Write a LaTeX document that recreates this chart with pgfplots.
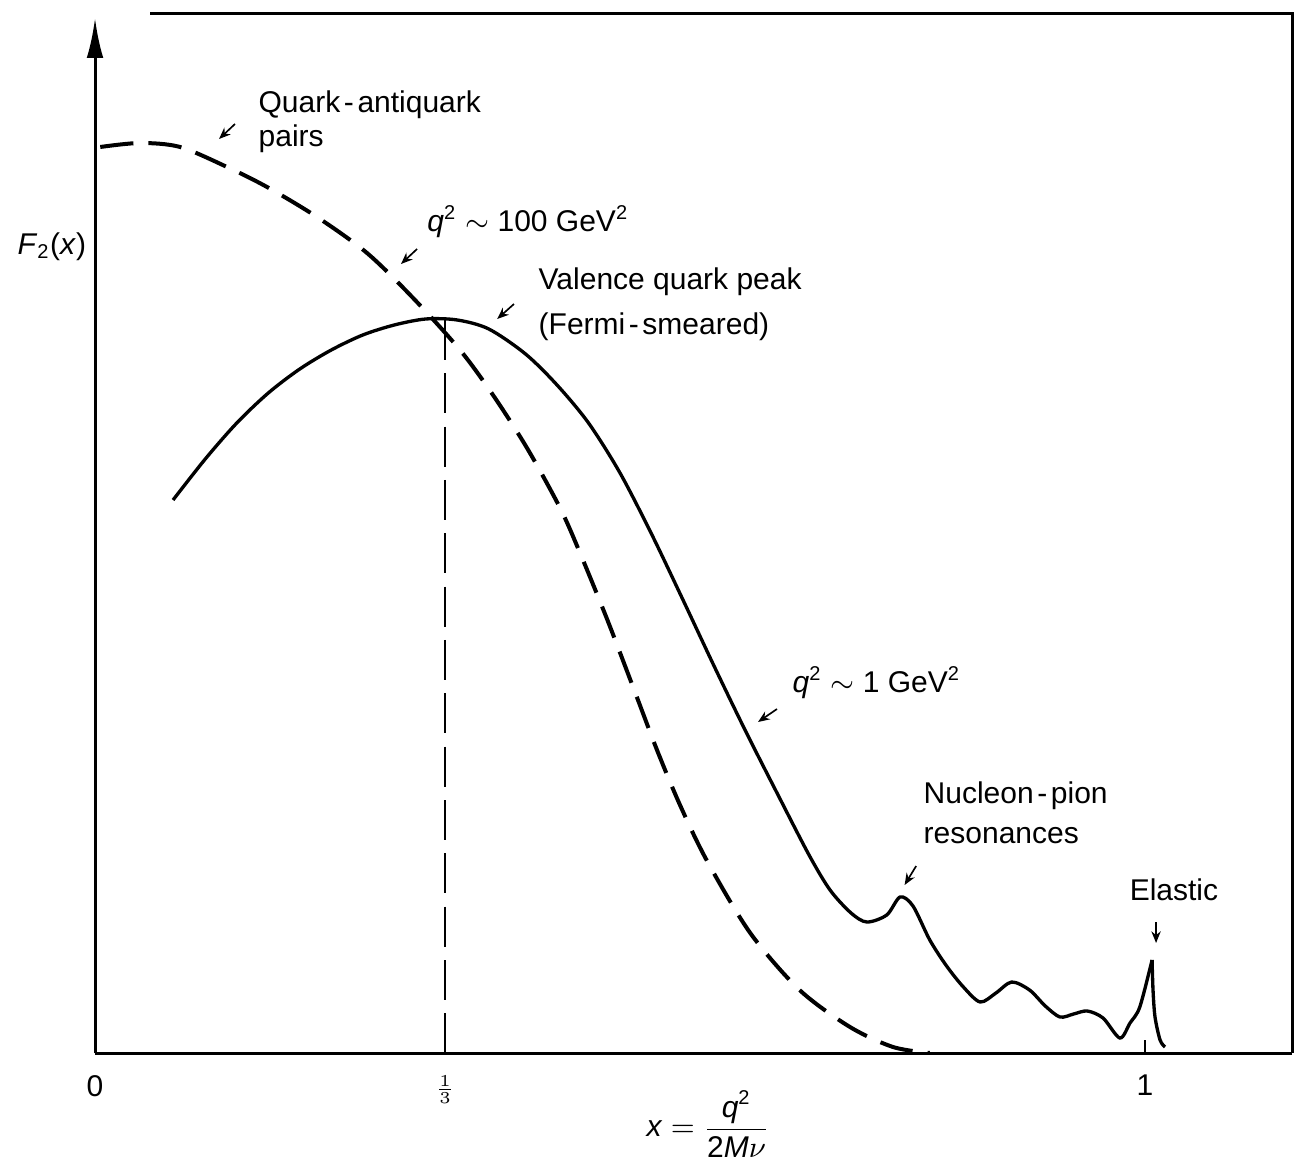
\documentclass[border=0pt]{standalone}
\usepackage{pgfplots}
\pgfplotsset{compat=1.18}
\usepackage{fontspec}
\setmainfont{Liberation Sans}
\usetikzlibrary{arrows.meta}
\begin{document}
\fontsize{9}{11}\selectfont
\begin{tikzpicture}
\begin{axis}[
  scale only axis,
  width=359.1pt, height=310.5pt,
  xmin=0, xmax=1.14, ymin=0, ymax=1.035,
  axis x line*=bottom,
  axis y line*=left,
  x axis line style={line width=0.9pt},
  y axis line style={line width=0.9pt, -{Latex[length=12pt,width=5pt]}},
  xtick={0,0.33333,1},
  xticklabels={0,{\fontsize{7.5}{7.5}\selectfont$\frac{1}{3}$},1},
  xticklabel style={font=\fontsize{9}{11}\selectfont, yshift=-3.5pt},
  ytick=\empty,
  tick align=inside,
  major tick length=4pt,
  tick style={line width=0.6pt, black},
  clip=false,
]
% q^2 ~ 100 GeV^2 (dashed)
\addplot[black, line width=1.2pt, dash pattern=on 10pt off 4.5pt, smooth] coordinates {
(0.005,0.906) (0.0429,0.910) (0.081,0.906) (0.1257,0.886) (0.1638,0.866)
(0.2114,0.836) (0.259,0.800) (0.3029,0.755) (0.3476,0.703)
(0.379,0.658) (0.4114,0.605) (0.4429,0.545) (0.4619,0.500) (0.4876,0.434)
(0.5124,0.366) (0.5352,0.303) (0.5571,0.248) (0.5829,0.192) (0.624,0.120)
(0.671,0.063) (0.719,0.026) (0.760,0.006) (0.795,0.0)};
% q^2 ~ 1 GeV^2 (solid)
\addplot[black, line width=1pt, smooth] coordinates {
(0.0743,0.553) (0.105,0.594) (0.135,0.630) (0.165,0.660) (0.195,0.684)
(0.225,0.703) (0.255,0.718) (0.285,0.728) (0.315,0.734) (0.345,0.733)
(0.375,0.724) (0.410,0.699) (0.440,0.668) (0.470,0.630) (0.500,0.580)
(0.530,0.519) (0.560,0.453) (0.590,0.386) (0.620,0.321) (0.650,0.259)
(0.680,0.198) (0.700,0.163) (0.720,0.140) (0.735,0.131) (0.754,0.138)
(0.7667,0.156) (0.779,0.147) (0.795,0.113) (0.811,0.087) (0.827,0.066)
(0.843,0.051) (0.858,0.060) (0.873,0.071) (0.890,0.063) (0.905,0.047)
(0.919,0.036) (0.932,0.039) (0.945,0.042) (0.960,0.035) (0.976,0.015)
(0.9857,0.030) (0.995,0.046) (1.0067,0.093)};
\addplot[black, line width=1pt, smooth] coordinates {
(1.0067,0.093) (1.0076,0.063) (1.0095,0.036) (1.0143,0.013) (1.019,0.006)};
% x = 1/3 marker
\addplot[black, line width=0.6pt, dash pattern=on 12pt off 4pt] coordinates {(0.3333,0.733) (0.3333,0)};

% frame lines (top and right)
\draw[line width=0.9pt] (axis cs:0.0524,1.039) -- (axis cs:1.14,1.039) -- (axis cs:1.14,0);

% labels
\node[inner sep=0pt, anchor=base west] at (axis cs:-0.0743,0.798) {\textit{F}\textsubscript{2}(\textit{x})};
\node[inner sep=0pt, anchor=base west] at (axis cs:0.1552,0.940) {Quark\hspace{0.12em}-\hspace{0.12em}antiquark};
\node[inner sep=0pt, anchor=base west] at (axis cs:0.1552,0.906) {pairs};
\node[inner sep=0pt, anchor=base west] at (axis cs:0.316,0.821) {\textit{q}\textsuperscript{2} $\sim$ 100 GeV\textsuperscript{2}};
\node[inner sep=0pt, anchor=base west] at (axis cs:0.4219,0.763) {Valence quark peak};
\node[inner sep=0pt, anchor=base west] at (axis cs:0.4219,0.718) {(Fermi\hspace{0.12em}-\hspace{0.12em}smeared)};
\node[inner sep=0pt, anchor=base west] at (axis cs:0.6638,0.360) {\textit{q}\textsuperscript{2} $\sim$ 1 GeV\textsuperscript{2}};
\node[inner sep=0pt, anchor=base west] at (axis cs:0.7886,0.250) {Nucleon\hspace{0.12em}-\hspace{0.12em}pion};
\node[inner sep=0pt, anchor=base west] at (axis cs:0.7886,0.210) {resonances};
\node[inner sep=0pt, anchor=base west] at (axis cs:0.9848,0.153) {Elastic};
\node[anchor=center] at (axis cs:0.584,-0.071) {\textit{x} $=$ $\displaystyle\frac{\mbox{\textit{q}\textsuperscript{2}}}{\mbox{2\textit{M}}\nu}$};

% small annotation arrows
\draw[line width=0.5pt, -{Stealth[length=3.5pt,width=2.8pt]}] (axis cs:0.1333,0.929) -- (axis cs:0.1181,0.914);
\draw[line width=0.5pt, -{Stealth[length=3.5pt,width=2.8pt]}] (axis cs:0.3067,0.804) -- (axis cs:0.2914,0.789);
\draw[line width=0.5pt, -{Stealth[length=3.5pt,width=2.8pt]}] (axis cs:0.399,0.749) -- (axis cs:0.383,0.734);
\draw[line width=0.5pt, -{Stealth[length=3.5pt,width=2.8pt]}] (axis cs:0.6495,0.344) -- (axis cs:0.6314,0.331);
\draw[line width=0.5pt, -{Stealth[length=3.5pt,width=2.8pt]}] (axis cs:0.782,0.187) -- (axis cs:0.771,0.168);
\draw[line width=0.5pt, -{Stealth[length=3.5pt,width=2.8pt]}] (axis cs:1.0105,0.131) -- (axis cs:1.0105,0.110);

\coordinate (BL) at (axis cs:-0.0905,-0.106);
\coordinate (TR) at (axis cs:1.1552,1.053);
\end{axis}
\pgfresetboundingbox
\path[use as bounding box] (BL) rectangle (TR);
\end{tikzpicture}
\end{document}
